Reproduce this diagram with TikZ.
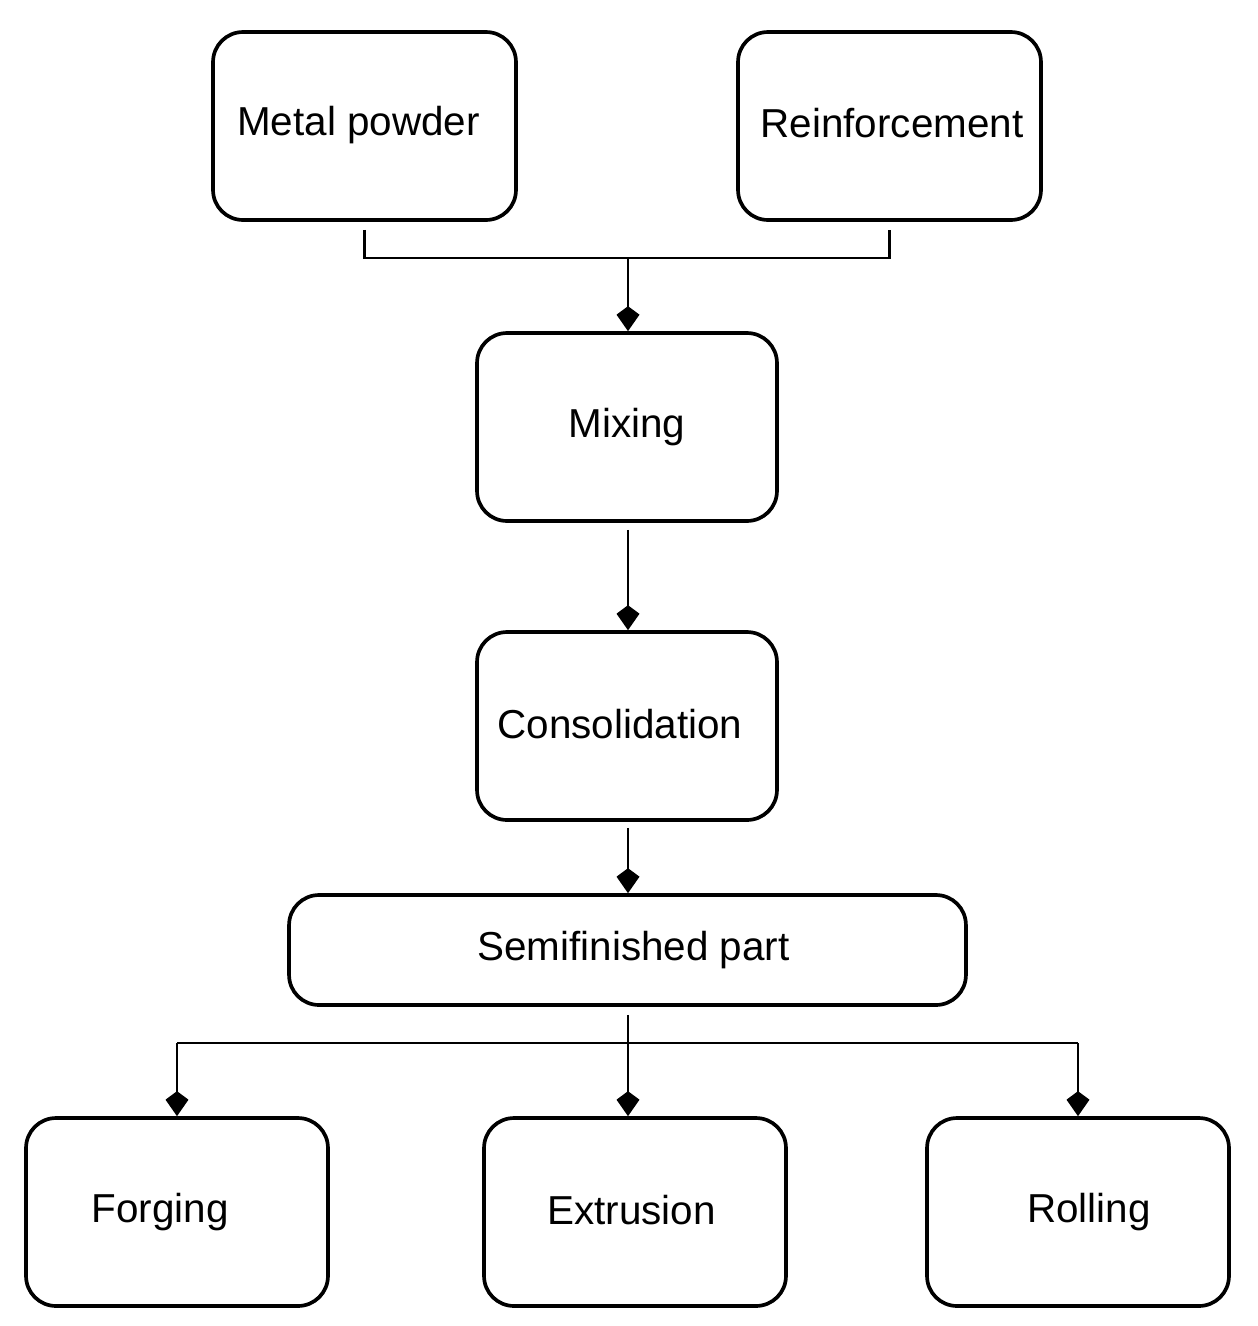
\documentclass[tikz,border=0pt]{standalone}
\usepackage{fontspec}
\setmainfont{Liberation Sans}
\usetikzlibrary{arrows.meta,calc}
\begin{document}
\begin{tikzpicture}[x=0.02cm,y=-0.02cm,
  box/.style={draw=black, line width=2.1pt, rounded corners=0.6cm, inner sep=0pt,
    minimum width=6cm, minimum height=3.76cm, font=\fontsize{23}{27}\selectfont},
  conn/.style={draw=black, line width=1.2pt},
  arr/.style={conn, -{Kite[length=0.5cm,width=0.46cm,inset=0.17cm]}},
]
\useasboundingbox (0,0) rectangle (1258,1326);
\node[box, minimum width=6.06cm] (mp) at (364.5,126) {\hspace*{-0.24cm}\raisebox{0.22cm}{Metal powder}};
\node[box, minimum width=6.06cm] (re) at (889.5,126) {\hspace*{0.1cm}\raisebox{0.14cm}{Reinforcement}};
\node[box] (mix) at (627,427) {\raisebox{0.12cm}{Mixing}};
\node[box] (con) at (627,726) {\hspace*{-0.28cm}\raisebox{0.08cm}{Consolidation}};
\node[box, minimum width=13.54cm, minimum height=2.2cm] (semi) at (627.5,950) {\hspace*{0.24cm}\raisebox{0.08cm}{Semifinished part}};
\node[box, minimum width=6.04cm] (forg) at (177,1212) {\hspace*{-0.68cm}Forging};
\node[box, minimum width=6.04cm] (ext) at (635,1212) {\hspace*{-0.14cm}\raisebox{0.1cm}{Extrusion}};
\node[box, minimum width=6.04cm] (rol) at (1078,1212) {\hspace*{0.44cm}Rolling};

\coordinate (j1) at (628,258);
\coordinate (j2) at (628,1043);
\draw[conn] ($(mp.south)+(0,8)$) -- (mp.south |- j1) -- (re.south |- j1) -- ($(re.south)+(0,8)$);
\draw[arr] (j1) -- (mix.north -| j1);
\draw[arr] ($(mix.south -| j1)+(0,7)$) -- (con.north -| j1);
\draw[arr] ($(con.south -| j1)+(0,6)$) -- (semi.north -| j1);
\draw[arr] ($(semi.south -| j1)+(0,8)$) -- (ext.north -| j1);
\draw[conn] (forg.north |- j2) -- (rol.north |- j2);
\draw[arr] (forg.north |- j2) -- (forg.north);
\draw[arr] (rol.north |- j2) -- (rol.north);
\end{tikzpicture}
\end{document}
